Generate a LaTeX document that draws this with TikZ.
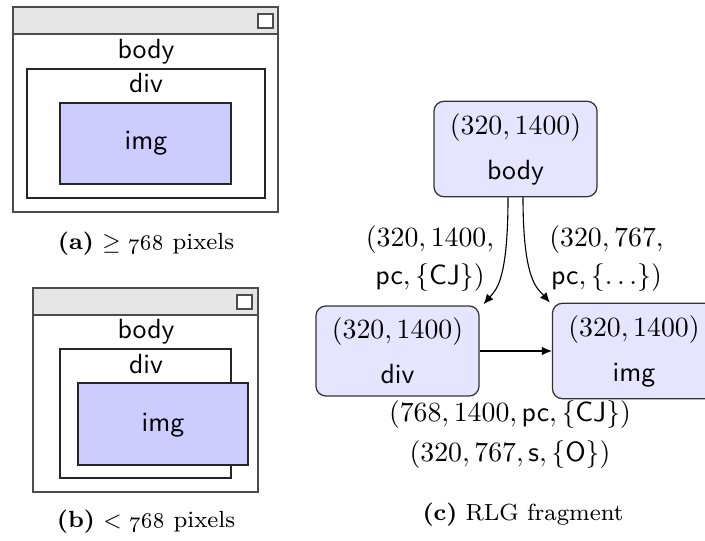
\documentclass[tikz,border=0pt]{standalone}
\usetikzlibrary{arrows.meta}

\begin{document}
\begin{tikzpicture}[x=0.36pt,y=-0.36pt,
  winframe/.style={draw=black!70, line width=0.45pt},
  boxframe/.style={draw=black!85, line width=0.45pt},
  txt/.style={inner sep=0pt, anchor=base, font=\sffamily},
  captxt/.style={inner sep=0pt, anchor=base, font=\fontsize{8.4}{10}\selectfont},
  rlg/.style={draw=black!80, fill=blue!10, line width=0.45pt, rounded corners=3.6pt,
    align=center, inner xsep=5.75pt, inner ysep=4.3pt},
  elabel/.style={align=center, inner sep=0pt},
  conn/.style={draw=black, line width=0.4pt, -{Latex[length=3.6pt,width=3.1pt]}}]
\useasboundingbox (0,0) rectangle (705,541);

% --- window at >= 768 pixels
\draw[winframe, fill=gray!20] (13,7) rectangle (278,34);
\draw[winframe] (13,34) rectangle (278,212);
\draw[winframe, fill=white] (258,14) rectangle (273,28);
\node[txt] (wa-body) at (146,59) {body};
\draw[boxframe] (27,69) rectangle (265,198);
\node[txt] (wa-div) at (146,93) {div};
\draw[boxframe, fill=blue!20] (60,103) rectangle (231,184);
\node[txt] (wa-img) at (146,150) {img};
\node[captxt] (cap-a) at (146,250) {\textbf{(a)} $\geq$ \oldstylenums{768} pixels};

% --- window below 768 pixels
\draw[winframe, fill=gray!20] (33,288) rectangle (258,315);
\draw[winframe] (33,315) rectangle (258,492);
\draw[winframe, fill=white] (237,295) rectangle (252,309);
\node[txt] (wb-body) at (146,339) {body};
\draw[boxframe] (60,349) rectangle (231,478);
\node[txt] (wb-div) at (146,374) {div};
\draw[boxframe, fill=blue!20] (78,383) rectangle (248,465);
\node[txt] (wb-img) at (163,431) {img};
\node[captxt] (cap-b) at (146,527) {\textbf{(b)} $<$ \oldstylenums{768} pixels};

% --- RLG fragment
\node[rlg] (body) at (515.5,149) {$(320, 1400)$\\[4.2pt]\textsf{body}};
\node[rlg] (div) at (397.5,351) {$(320, 1400)$\\[4.2pt]\textsf{div}};
\node[rlg] (img) at (634,351) {$(320, 1400)$\\[4.2pt]\textsf{img}};

\path[conn] ([xshift=-2.7pt]body.south) .. controls +(0,85) and +(12,-14) .. ([xshift=1.4pt,yshift=0.4pt]div.north east);
\path[conn] ([xshift=2.7pt]body.south) .. controls +(0,85) and +(-12,-14) .. ([xshift=-0.7pt]img.north west);
\path[conn] (div.east) -- (img.west);

\node[elabel] (lab-div) at (430,259) {$(320, 1400,$\\[1.7pt]$\textsf{pc}, \{\textsf{CJ}\})$};
\node[elabel] (lab-img) at (606.5,259) {$(320, 767,$\\[1.7pt]$\textsf{pc}, \{\ldots\})$};
\node[elabel] (lab-sib) at (510,435) {$(768, 1400, \textsf{pc}, \{\textsf{CJ}\})$\\[2.4pt]$(320, 767, \textsf{s}, \{\textsf{O}\})$};

\node[captxt] (cap-c) at (523,520) {\textbf{(c)} RLG fragment};
\end{tikzpicture}
\end{document}
